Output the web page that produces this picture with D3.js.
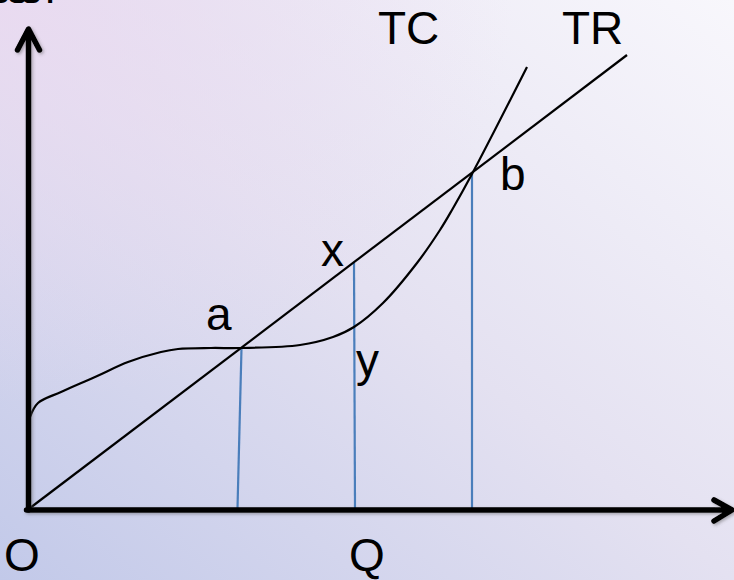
<!DOCTYPE html>
<html>
<head>
<meta charset="utf-8">
<script src="https://cdn.jsdelivr.net/npm/d3@7"></script>
<style>
  html, body { margin: 0; padding: 0; overflow: hidden; }
  svg { display: block; }
  text { font-family: 'Liberation Sans', Arial, sans-serif; fill: #000; }
</style>
</head>
<body>
<div id="chart"></div>
<script>
// Data (in chart units: quantity / money)

var tcCurve = [
  [0, 91], [8, 105], [31, 116], [65, 131], [98, 146], [131, 156],
  [148, 159], [181, 160], [211, 160], [270, 163], [303, 171], [324, 181],
  [353, 205], [387, 245], [410, 278], [422, 298], [442, 334], [497, 441]
]
var trLine = [[0, 0], [597, 453]]

// drop lines from a, x and b down to the Q axis
var dropTops = [[211.5, 160], [324, 245], [442, 334]]
var dropBottoms = [[207.5, 0], [325, 0], [442, 0]]

var curveLabels = ['TC', 'TR']
var pointLabels = ['a', 'x', 'y', 'b']
var axisLabels = ['O', 'Q']
var yTitle = 'التكاليف'

// Set up sizes

var width = 734
var height = 580

var svg = d3.select('#chart')
  .append('svg')
  .attr('width', width)
  .attr('height', height)

var defs = svg.append('defs')

var bg = defs.append('linearGradient')
  .attr('id', 'bg')
  .attr('x1', 1).attr('y1', 0)
  .attr('x2', 0).attr('y2', 1)
bg.append('stop').attr('offset', 0).attr('stop-color', '#f8f7fc')
bg.append('stop').attr('offset', 0.5).attr('stop-color', '#e4e1f1')
bg.append('stop').attr('offset', 1).attr('stop-color', '#c2c9e9')

var pink = defs.append('radialGradient')
  .attr('id', 'pink')
  .attr('cx', 0).attr('cy', 0).attr('r', 0.7)
pink.append('stop').attr('offset', 0).attr('stop-color', '#ead9f0').attr('stop-opacity', 0.8)
pink.append('stop').attr('offset', 1).attr('stop-color', '#ead9f0').attr('stop-opacity', 0)

var shadow = defs.append('filter')
  .attr('id', 'shadow')
  .attr('x', -0.1).attr('y', -0.1)
  .attr('width', 1.2).attr('height', 1.2)
shadow.append('feDropShadow')
  .attr('dx', 1.5).attr('dy', 1.5)
  .attr('stdDeviation', 1.5)
  .attr('flood-color', '#555')
  .attr('flood-opacity', 0.45)

svg.append('rect').attr('width', width).attr('height', height).attr('fill', 'url(#bg)')
svg.append('rect').attr('width', width).attr('height', height).attr('fill', 'url(#pink)')

// Scales

var xPositionScale = d3.scaleLinear().domain([0, 700]).range([30, 730])
var yPositionScale = d3.scaleLinear().domain([0, 500]).range([508, 8])

var line = d3.line()
  .x(d => xPositionScale(d[0]))
  .y(d => yPositionScale(d[1]))

// Blue drop lines

svg.selectAll('.drop')
  .data(dropTops)
  .enter()
  .append('line')
  .attr('class', 'drop')
  .attr('x1', d => xPositionScale(d[0]))
  .attr('y1', d => yPositionScale(d[1]))
  .attr('x2', (d, i) => xPositionScale(dropBottoms[i][0]))
  .attr('y2', (d, i) => yPositionScale(dropBottoms[i][1]))
  .attr('stroke', '#4a7ebb')
  .attr('stroke-width', 2.2)

// TR and TC

svg.append('path')
  .datum(trLine)
  .attr('d', line)
  .attr('fill', 'none')
  .attr('stroke', '#000')
  .attr('stroke-width', 2.2)

svg.append('path')
  .datum(tcCurve)
  .attr('d', line.curve(d3.curveCatmullRom.alpha(0.5)))
  .attr('fill', 'none')
  .attr('stroke', '#000')
  .attr('stroke-width', 2.2)

// Axes with open arrow heads

var ox = xPositionScale(0) - 1.5
var oy = yPositionScale(0) + 2
var axes = svg.append('g')
  .attr('filter', 'url(#shadow)')
  .attr('fill', 'none')
  .attr('stroke', '#000')
  .attr('stroke-width', 5.5)
  .attr('stroke-linecap', 'round')
  .attr('stroke-linejoin', 'round')

axes.append('path')
  .attr('d', 'M' + ox + ',' + oy + 'V30' +
    'M' + (ox - 11) + ',50L' + ox + ',29L' + (ox + 11) + ',50')

axes.append('path')
  .attr('d', 'M' + (ox - 2) + ',' + oy + 'H731' +
    'M714,' + (oy - 10) + 'L732,' + oy + 'L714,' + (oy + 11))

// Labels

var fontSize = 46

svg.append('text')
  .attr('x', 56)
  .attr('y', 3)
  .attr('font-size', 44)
  .attr('text-anchor', 'end')
  .attr('font-family', "'DejaVu Sans', sans-serif")
  .text(yTitle)

var curveLabelPos = [[378, 44], [562, 44]]
svg.selectAll('.curve-label')
  .data(curveLabels)
  .enter()
  .append('text')
  .attr('class', 'curve-label')
  .attr('x', (d, i) => curveLabelPos[i][0])
  .attr('y', (d, i) => curveLabelPos[i][1])
  .attr('font-size', fontSize)
  .text(d => d)

var pointLabelPos = [[206, 330], [321, 266], [356, 376], [500, 190]]
svg.selectAll('.point-label')
  .data(pointLabels)
  .enter()
  .append('text')
  .attr('class', 'point-label')
  .attr('x', (d, i) => pointLabelPos[i][0])
  .attr('y', (d, i) => pointLabelPos[i][1])
  .attr('font-size', fontSize)
  .text(d => d)

var axisLabelPos = [[4, 571], [349, 571]]
svg.selectAll('.axis-label')
  .data(axisLabels)
  .enter()
  .append('text')
  .attr('class', 'axis-label')
  .attr('x', (d, i) => axisLabelPos[i][0])
  .attr('y', (d, i) => axisLabelPos[i][1])
  .attr('font-size', fontSize)
  .text(d => d)
</script>
</body>
</html>
